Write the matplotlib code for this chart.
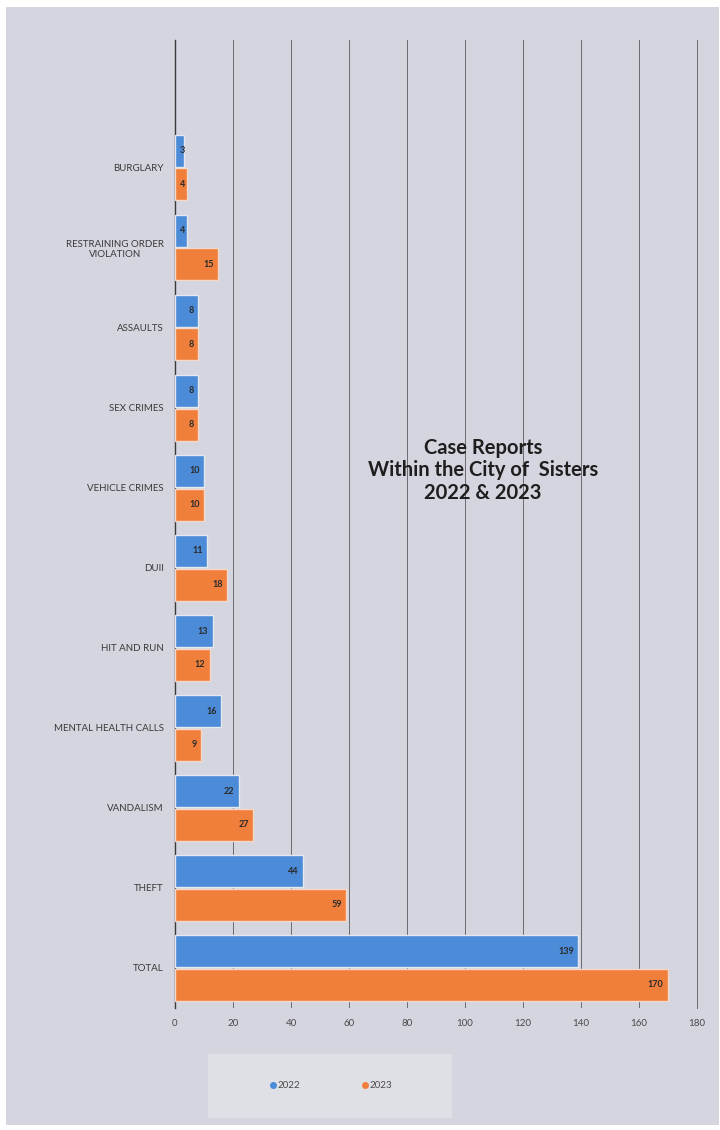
import matplotlib.pyplot as plt
import matplotlib.patches as mpatches
from matplotlib.lines import Line2D
import numpy as np

plt.rcParams['font.family'] = ['Lato', 'DejaVu Sans']

# categories listed bottom to top
categories = ['TOTAL', 'THEFT', 'VANDALISM', 'MENTAL HEALTH CALLS', 'HIT AND RUN',
              'DUII', 'VEHICLE CRIMES', 'SEX CRIMES', 'ASSAULTS',
              'RESTRAINING ORDER\nVIOLATION', 'BURGLARY']
cases_2022 = [139, 44, 22, 16, 13, 11, 10, 8, 8, 4, 3]
cases_2023 = [170, 59, 27, 9, 12, 18, 10, 8, 8, 15, 4]
years = ['2022', '2023']

blue = '#4b8bd8'
orange = '#f07f3c'
bg = '#d4d5df'

fig = plt.figure(figsize=(7.2, 11.3), dpi=100, facecolor='white')
# scanned page background
fig.patches.append(mpatches.Rectangle((0.009, 0.004), 0.99, 0.99, transform=fig.transFigure,
                                      facecolor=bg, edgecolor='none', zorder=-5))
# legend panel
fig.patches.append(mpatches.Rectangle((0.289, 0.0106), 0.339, 0.0566, transform=fig.transFigure,
                                      facecolor='#dfe0e6', edgecolor='none', zorder=-4))

ax = fig.add_axes([0.243, 0.108, 0.725, 0.857])
ax.set_facecolor('none')

y = np.arange(len(categories))
h = 0.4
off = 0.21
b1 = ax.barh(y + off, cases_2022, height=h, color=blue, edgecolor='#e4e8f0', linewidth=1.0, zorder=3)
b2 = ax.barh(y - off, cases_2023, height=h, color=orange, edgecolor='#f4d8c8', linewidth=1.0, zorder=3)

for bars in (b1, b2):
    for rect in bars:
        w = rect.get_width()
        ax.text(max(w - 1.5, 3.4), rect.get_y() + rect.get_height() / 2, str(int(w)),
                ha='right', va='center', fontsize=6.5, fontweight='bold', color='#2a2a2a', zorder=4)

ax.set_xlim(0, 180)
ax.set_ylim(-0.5, len(categories) - 1 + 1.6)
ax.set_xticks(np.arange(0, 181, 20))
ax.set_yticks(y)
ax.set_yticklabels(categories, fontsize=7, color='#3a3a3a')
ax.tick_params(axis='x', labelsize=7, colors='#4a4a4a', length=0, pad=8)
ax.tick_params(axis='y', length=0, pad=8)
for lab in ax.get_yticklabels():
    lab.set_multialignment('center')

ax.grid(axis='x', color='#6a6a70', linewidth=0.7, zorder=1)
for s in ['top', 'bottom']:
    ax.spines[s].set_visible(False)
ax.spines['right'].set_color('#6a6a70')
ax.spines['right'].set_linewidth(0.7)
ax.spines['left'].set_color('#3a3a3a')
ax.spines['left'].set_linewidth(1.0)

ax.text(0.59, 0.555, 'Case Reports\nWithin the City of  Sisters\n2022 & 2023',
        transform=ax.transAxes, ha='center', va='center', fontsize=14.5,
        fontweight='bold', color='#1e1e1e', linespacing=1.15, zorder=5)

handles = [Line2D([], [], linestyle='none', marker='o', markersize=4, color=c) for c in (blue, orange)]
leg = fig.legend(handles=handles, labels=years, loc='center',
                 bbox_to_anchor=(0.46, 0.039), ncol=2, frameon=False, fontsize=7,
                 handlelength=0.6, columnspacing=6.3,
                 borderaxespad=0, handletextpad=0.2)
for t in leg.get_texts():
    t.set_color('#4a4a4a')

fig.savefig('out.png', dpi=100, facecolor=fig.get_facecolor())
